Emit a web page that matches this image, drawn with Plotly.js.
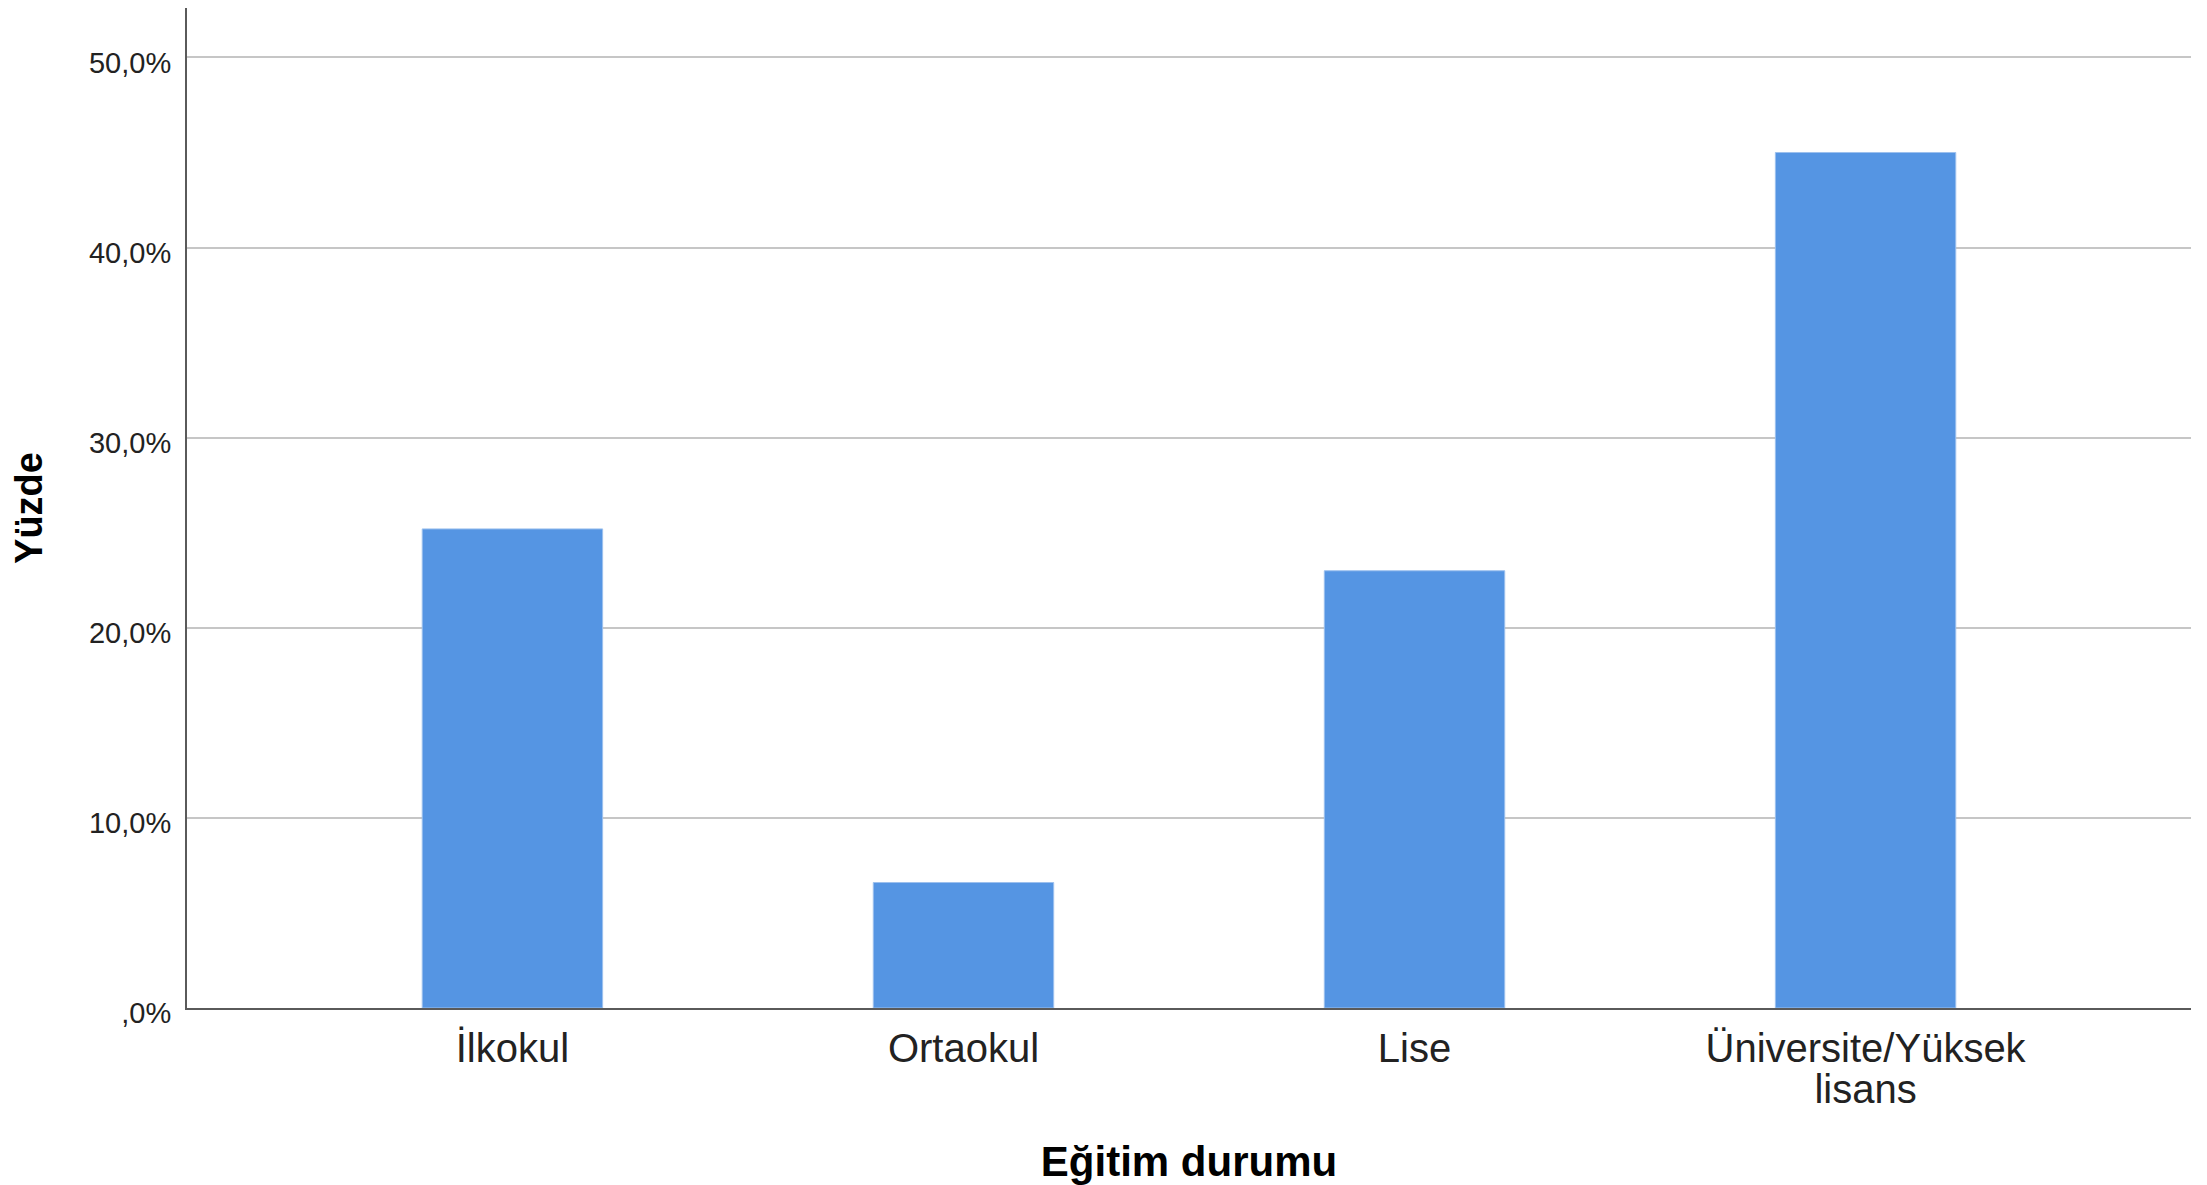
<!DOCTYPE html>
<html>
<head>
<meta charset="utf-8">
<script src="https://cdn.plot.ly/plotly-3.0.1.min.js"></script>
<style>html,body{margin:0;padding:0;background:#fff;}#chart{width:2207px;height:1185px;}</style>
</head>
<body>
<div id="chart"></div>
<script>
const categories = ["İlkokul", "Ortaokul", "Lise", "Üniversite/Yüksek<br>lisans"];
const percentValues = [25.2, 6.6, 23.0, 45.0];
const yTickValues = [0, 10, 20, 30, 40, 50];
const yTickLabels = [",0%", "10,0%", "20,0%", "30,0%", "40,0%", "50,0%"];
const xTitle = "Eğitim durumu";
const yTitle = "Yüzde";

const fontFamily = "Liberation Sans, Arial, sans-serif";

const trace = {
  type: "bar",
  x: categories,
  y: percentValues,
  width: 0.4,
  marker: { color: "#5595E3", line: { color: "#9cc0ee", width: 1 } },
  hoverinfo: "skip"
};

const layout = {
  width: 2207,
  height: 1185,
  paper_bgcolor: "#ffffff",
  plot_bgcolor: "#ffffff",
  showlegend: false,
  margin: { l: 187, r: 16, t: 8, b: 177 },
  xaxis: {
    type: "category",
    range: [-0.7215, 3.7215],
    showline: true,
    linecolor: "#5a5a5a",
    linewidth: 2,
    showgrid: false,
    zeroline: false,
    ticks: "outside",
    ticklen: 4,
    tickcolor: "rgba(0,0,0,0)",
    tickfont: { family: fontFamily, size: 40, color: "#222" },
    title: { text: xTitle, font: { family: fontFamily, size: 42, color: "#000", weight: "bold" }, standoff: 34 },
    automargin: false,
    fixedrange: true
  },
  yaxis: {
    range: [0, 52.6],
    tickvals: yTickValues,
    ticktext: yTickLabels,
    showline: true,
    linecolor: "#5a5a5a",
    linewidth: 2,
    showgrid: true,
    gridcolor: "#c6c6c6",
    gridwidth: 2,
    zeroline: false,
    ticks: "",
    ticklabelstandoff: 8,
    ticklabelshift: 5,
    tickfont: { family: fontFamily, size: 29, color: "#222" },
    title: { text: yTitle, font: { family: fontFamily, size: 38, color: "#000", weight: "bold" }, standoff: 35 },
    automargin: false,
    fixedrange: true
  }
};

Plotly.newPlot("chart", [trace], layout, { displayModeBar: false, staticPlot: true }).then(function () {
  // tighten line spacing of the two-line category label to match the reference
  document.querySelectorAll(".xtick text").forEach(function (t) {
    const lines = t.querySelectorAll("tspan.line");
    lines.forEach(function (ln, i) {
      if (i > 0) ln.setAttribute("dy", (1.03 * i).toFixed(2) + "em");
    });
  });
});
</script>
</body>
</html>
